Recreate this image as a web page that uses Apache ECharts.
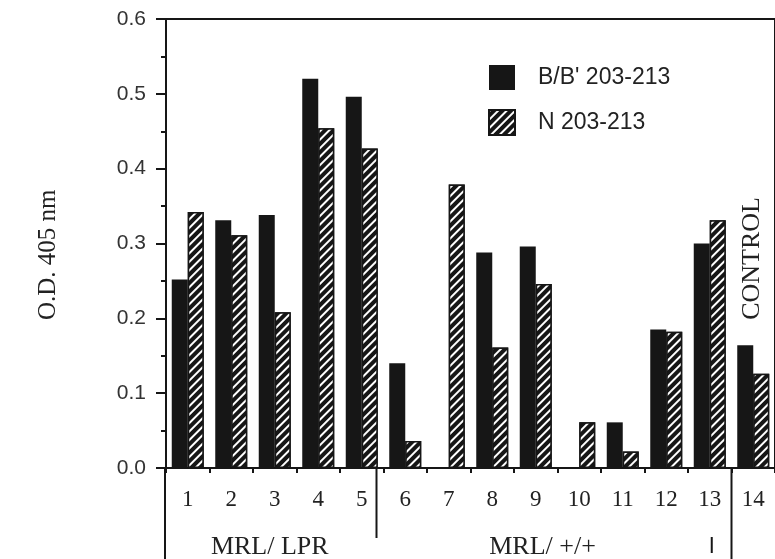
<!DOCTYPE html>
<html><head><meta charset="utf-8">
<script src="https://cdn.jsdelivr.net/npm/echarts@6/dist/echarts.min.js"></script>
<style>html,body{margin:0;padding:0;background:#fff}#c{width:775px;height:559px}</style>
</head><body><div id="c"></div>
<script>
const categories = ['1','2','3','4','5','6','7','8','9','10','11','12','13','14'];
const seriesNames = ["B/B' 203-213", 'N 203-213'];
const bbValues = [0.252, 0.331, 0.338, 0.520, 0.496, 0.140, 0, 0.288, 0.296, 0, 0.061, 0.185, 0.300, 0.164];
const nValues  = [0.342, 0.311, 0.208, 0.454, 0.427, 0.036, 0.379, 0.161, 0.246, 0.061, 0.022, 0.182, 0.331, 0.126];
const yTicks = [0, 0.1, 0.2, 0.3, 0.4, 0.5, 0.6];
const groups = [
  {name: 'MRL/ LPR', from: 0, to: 4},
  {name: 'MRL/ +/+', from: 5, to: 12}
];
const yTitle = 'O.D. 405 nm';
const controlLabel = 'CONTROL';

const INK = '#161616';
const SERIF = "'Liberation Serif', 'Times New Roman', serif";
const SANS = "'Liberation Sans', Arial, sans-serif";

const chart = echarts.init(document.getElementById('c'), null, {renderer: 'canvas'});
chart.setOption({
  backgroundColor: '#fff',
  animation: false,
  grid: {left: 166, top: 19, width: 616, height: 449, show: true, borderColor: INK, borderWidth: 2, backgroundColor: 'transparent'},
  legend: {
    orient: 'vertical', left: 483, top: 60, itemWidth: 26, itemHeight: 25, itemGap: 19, icon: 'rect',
    data: seriesNames,
    textStyle: {fontFamily: SANS, fontSize: 23, color: '#222', padding: [0, 0, 0, 18]}
  },
  xAxis: {
    type: 'category', data: categories, boundaryGap: true,
    axisLine: {lineStyle: {color: INK, width: 2}},
    axisTick: {show: true, length: 5, lineStyle: {color: INK, width: 2}},
    axisLabel: {fontFamily: SERIF, fontSize: 23, color: '#222', margin: 20, interval: 0}
  },
  yAxis: {
    type: 'value', min: 0, max: 0.6, interval: 0.1,
    axisLine: {show: true, lineStyle: {color: INK, width: 2}},
    axisTick: {show: true, length: 10, lineStyle: {color: INK, width: 2}},
    minorTick: {show: true, splitNumber: 2, length: 5, lineStyle: {color: INK, width: 2}},
    splitLine: {show: false},
    axisLabel: {fontFamily: SANS, fontSize: 21, color: '#333', margin: 20, formatter: v => v.toFixed(1)}
  },
  series: [
    {name: seriesNames[0], type: 'bar', data: bbValues, barWidth: 16, barGap: '0%', itemStyle: {color: INK}},
    {name: seriesNames[1], type: 'bar', data: nValues, barWidth: 16, barGap: '0%',
     itemStyle: {color: INK, borderColor: INK, borderWidth: 1.5,
       decal: {symbol: 'rect', symbolSize: 1, dashArrayX: [1, 0], dashArrayY: [2, 3.5], rotation: -Math.PI / 4, color: '#ffffff'}}}
  ]
});

// decorations derived from axes
const band = chart.convertToPixel({xAxisIndex: 0}, categories[1]) - chart.convertToPixel({xAxisIndex: 0}, categories[0]);
const cx = i => chart.convertToPixel({xAxisIndex: 0}, categories[i]);
const yv = v => chart.convertToPixel({yAxisIndex: 0}, v);
const y0 = yv(0);
const H = 559;
const g = [];
const line = (x, ya, yb) => g.push({type: 'line', shape: {x1: x, y1: ya, x2: x, y2: yb}, style: {stroke: INK, lineWidth: 2}});
line(cx(0) - band / 2 - 1, y0, H);
line(cx(groups[0].to) + band / 2 - 7, y0, 538);
line(cx(groups[1].to) + band / 2, y0, H);
line(cx(12) + 2, 537, 553);
g.push({type: 'text', style: {text: groups[0].name, x: (cx(groups[0].from) + cx(groups[0].to)) / 2 - 5, y: 547, align: 'center', verticalAlign: 'middle', font: '26px ' + SERIF, fill: '#222'}});
g.push({type: 'text', style: {text: groups[1].name, x: (cx(groups[1].from) + cx(groups[1].to)) / 2 - 15, y: 547, align: 'center', verticalAlign: 'middle', font: '26px ' + SERIF, fill: '#222'}});
g.push({type: 'text', x: cx(13) - 1, y: yv(0.28), rotation: Math.PI / 2,
  style: {text: controlLabel, x: 0, y: 0, align: 'center', verticalAlign: 'middle', font: '26px ' + SERIF, fill: '#222'}});
g.push({type: 'text', x: 48, y: yv(0.285), rotation: Math.PI / 2,
  style: {text: yTitle, x: 0, y: 0, align: 'center', verticalAlign: 'middle', font: '25px ' + SERIF, fill: '#222'}});
chart.setOption({graphic: g});
</script>
</body></html>
